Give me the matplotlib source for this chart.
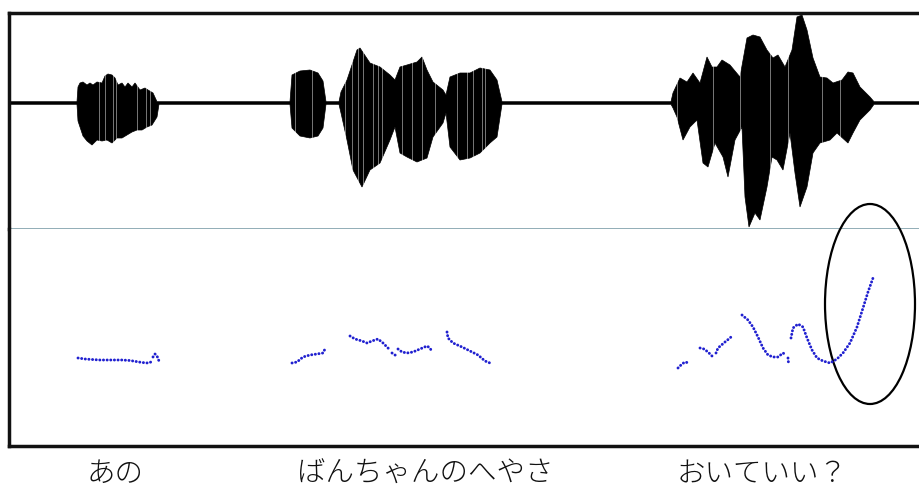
import numpy as np
import matplotlib
matplotlib.use("Agg")
import matplotlib.pyplot as plt
from matplotlib.patches import Ellipse

plt.rcParams['font.family'] = ['Noto Sans CJK JP', 'DejaVu Sans']

# Waveform envelope (time in frames, amplitude above/below the centre line)
wave_t_up = [9, 77, 78, 80, 83, 87, 90, 93, 97, 102, 105, 108, 112, 115, 118, 122, 125, 128,
             132, 135, 140, 145, 148, 153, 157,
             290, 292, 300, 310, 318, 323, 326,
             339, 341, 347, 357, 360, 370, 380, 390, 395, 400, 407, 417, 422, 427, 433, 443, 446,
             450, 460, 470, 480, 490, 497, 502,
             671, 673, 680, 687, 693, 700, 707, 712, 717, 722, 730, 740, 747, 753, 760, 767,
             773, 778, 785, 792, 797, 802, 807, 813, 820, 827, 833, 842, 848, 853, 860, 870,
             874, 924]
wave_up = [1.3, 1.3, 16, 20, 21, 18, 20, 18, 21, 20, 27, 29, 28, 25, 18, 20, 16, 20,
           16, 20, 13, 15, 13, 10, 1.3,
           1.3, 28, 32, 33, 30, 22, 1.3,
           1.3, 11, 23, 53, 55, 40, 36, 28, 23, 36, 38, 41, 46, 33, 21, 13, 8,
           26, 30, 30, 35, 33, 23, 1.3,
           1.3, 10, 25, 21, 30, 20, 46, 36, 36, 43, 38, 26, 65, 68, 66, 53,
           45, 48, 36, 53, 86, 88, 73, 45, 26, 25, 20, 23, 31, 30, 16, 6,
           1.3, 1.3]

wave_t_lo = [9, 77, 78, 80, 83, 87, 92, 97, 102, 107, 112, 117, 122, 127, 132, 137, 142,
             147, 152, 157, 159,
             290, 292, 300, 310, 318, 323, 326,
             339, 341, 347, 353, 362, 370, 380, 390, 395, 400, 407, 417, 427, 433, 443, 446,
             450, 460, 470, 480, 490, 497, 502,
             671, 673, 677, 683, 690, 697, 703, 708, 715, 723, 728, 735, 742, 745, 749, 755,
             760, 767, 772, 777, 783, 790, 795, 800, 807, 813, 820, 830, 837, 848, 853, 860,
             870, 874, 924]
wave_lo = [-1.3, -1.3, -18, -24, -33, -38, -42, -37, -38, -37, -40, -35, -35, -32, -29, -27, -27,
           -24, -22, -14, -1.3,
           -1.3, -25, -33, -35, -33, -25, -1.3,
           -1.3, -10, -37, -67, -84, -67, -60, -37, -24, -50, -54, -59, -55, -34, -20, -10,
           -44, -57, -55, -50, -40, -34, -1.3,
           -1.3, -5, -14, -37, -24, -17, -60, -64, -40, -54, -74, -37, -24, -94, -124, -110,
           -117, -84, -54, -57, -67, -30, -70, -104, -84, -50, -40, -37, -30, -40, -30, -17,
           -7, -1.3, -1.3]

# light vertical streaks inside the voiced parts
streak_t = [99, 105, 113, 116, 137, 146, 150,
            295, 312, 345, 352, 358, 363, 373, 378, 382, 402, 412, 422, 435,
            457, 467, 473, 482, 485,
            677, 713, 740, 770, 788, 822, 840]

# Pitch contour pieces (time in frames, pitch height)
f0_t = [
    [78, 85, 92, 100, 108, 115, 122, 130, 136, 142, 148, 151],
    [153, 155, 157, 159],
    [292, 297, 303, 310, 317, 323, 325],
    [350, 355, 362, 367, 372, 378, 383, 387, 390],
    [392, 395, 397],
    [398, 402, 407, 413, 420, 427, 430, 432],
    [447, 448, 453, 462, 470, 478, 485, 490],
    [678, 682, 685, 689],
    [700, 704, 708, 712, 714],
    [716, 718, 725, 730, 733],
    [742, 748, 753, 758, 763, 768, 773, 778, 783, 786],
    [788, 788.5],
    [791, 793, 798, 803, 807, 812, 817, 823, 830, 837, 843, 850, 857, 863, 868, 873],
]
f0_h = [
    [88, 87, 86.5, 86, 86, 86, 86, 85.5, 84.5, 83.5, 83, 84],
    [89, 92, 90, 85],
    [83, 84, 89, 91, 92, 93, 97],
    [110, 107, 105, 103, 105, 107, 103, 99, 96],
    [93, 91, 90],
    [97, 94, 93, 94, 97, 100, 98, 94],
    [114, 108, 103, 99, 95, 91, 85, 83],
    [78, 82, 84, 83],
    [98, 97, 94, 90, 88],
    [93, 98, 104, 108, 111],
    [131, 126, 119, 109, 98, 91, 89, 89, 93, 91],
    [88, 83],
    [108, 118, 122, 119, 108, 96, 88, 85, 83, 87, 93, 103, 119, 138, 154, 168],
]

# Phrase labels under the chart
labels = ['あの', 'ばんちゃんのへやさ', 'おいていい？']
label_t = [115, 425, 762]


def setup_axes(fig):
    # both panels run past the right edge so there is no right border
    ax_w = fig.add_axes([9 / 919, 259 / 488, 1.02, 216 / 488])
    ax_p = fig.add_axes([9 / 919, 42 / 488, 1.02, 217 / 488])
    for ax in (ax_w, ax_p):
        ax.set_xlim(9, 9 + 1.02 * 919)
        ax.set_xticks([])
        ax.set_yticks([])
        ax.spines['right'].set_visible(False)
        ax.spines['left'].set_linewidth(2.5)
        ax.spines['left'].set_color('#111111')
    ax_w.set_ylim(-126, 90)
    ax_w.spines['top'].set_linewidth(2.5)
    ax_w.spines['top'].set_color('#111111')
    ax_w.spines['bottom'].set_linewidth(1.2)
    ax_w.spines['bottom'].set_color('#7f9faa')
    ax_p.set_ylim(0, 217)
    ax_p.spines['top'].set_visible(False)
    ax_p.spines['bottom'].set_linewidth(2.5)
    ax_p.spines['bottom'].set_color('#111111')
    return ax_w, ax_p


def plot_waveform(ax):
    xs = np.r_[wave_t_up, wave_t_lo[::-1]]
    ys = np.r_[wave_up, wave_lo[::-1]]
    ax.fill(xs, ys, color='black', lw=0.5)
    ax.vlines(streak_t, -126, 90, color='white', lw=0.6, alpha=0.55)


def plot_pitch(ax):
    for t, h in zip(f0_t, f0_h):
        ax.plot(t, h, color='#2020d0', lw=2.1, ls=(0, (0.05, 1.2)),
                dash_capstyle='round', solid_capstyle='round')
    # circled question rise
    ax.add_patch(Ellipse((870, 446 - 304), 90, 200, fill=False,
                         ec='black', lw=1.6, clip_on=False))


def main():
    fig = plt.figure(figsize=(9.19, 4.88), dpi=100)
    ax_w, ax_p = setup_axes(fig)
    plot_waveform(ax_w)
    plot_pitch(ax_p)
    for lab, t in zip(labels, label_t):
        fig.text(t / 919, 14 / 488, lab, ha='center', va='center',
                 fontsize=20.5, fontweight='light', color='#111111')
    fig.savefig('out.png', dpi=100)


if __name__ == "__main__":
    main()
